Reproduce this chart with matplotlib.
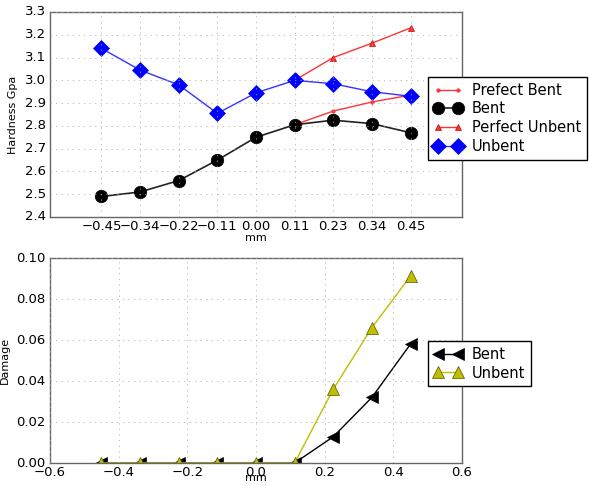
import matplotlib
matplotlib.use('Agg')
import matplotlib.pyplot as plt

# posiciones (mm) y etiquetas
x = [-0.45, -0.3375, -0.225, -0.1125, 0.0, 0.1125, 0.225, 0.3375, 0.45]
x_labels = ['-0.45', '-0.34', '-0.22', '-0.11', '0.00', '0.11', '0.23', '0.34', '0.45']
x_perf = [0.1125, 0.225, 0.3375, 0.45]
y_ticks = [2.4, 2.5, 2.6, 2.7, 2.8, 2.9, 3.0, 3.1, 3.2, 3.3]

# dureza
bent = [2.49, 2.51, 2.56, 2.65, 2.75, 2.805, 2.825, 2.81, 2.77]
unbent = [3.14, 3.045, 2.98, 2.855, 2.945, 3.0, 2.985, 2.95, 2.93]
perfect_bent = [2.805, 2.865, 2.905, 2.935]
perfect_unbent = [3.0, 3.10, 3.163, 3.23]

# daño
damage_bent = [0, 0, 0, 0, 0, 0, 0.0128, 0.032, 0.058]
damage_unbent = [0, 0, 0, 0, 0, 0, 0.036, 0.066, 0.0912]

plt.style.use('classic')
plt.rcParams['font.family'] = 'DejaVu Sans'

fig = plt.figure(figsize=(5.89, 4.86), dpi=100, facecolor='white')
ax1 = fig.add_axes([50/589, 1-217/486, 412/589, 205/486])
ax2 = fig.add_axes([50/589, 1-463/486, 412/589, 205/486])

ax1.plot(x_perf, perfect_bent, '.-', color='#ff3333', ms=5, lw=1, label='Prefect Bent')
ax1.plot(x, bent, 'o-', color='#222222', mec='k', mfc='k', ms=9, lw=1.2, label='Bent')
ax1.plot(x_perf, perfect_unbent, '^-', color='#ff3333', ms=4, mec='#cc0000', lw=1, label='Perfect Unbent')
ax1.plot(x, unbent, 'D-', color='#3333ff', mfc='blue', ms=8, mec='blue', lw=1, label='Unbent')
ax1.set_xlim(-0.6, 0.6)
ax1.set_ylim(2.4, 3.3)
ax1.set_yticks(y_ticks)
ax1.set_xticks(x)
ax1.set_xticklabels([l.replace('-', '\u2212') for l in x_labels])
ax1.set_ylabel('Hardness Gpa', fontsize=8)
ax1.set_xlabel('mm', fontsize=8, labelpad=0)
ax1.grid(True, color='#aaaaaa', linestyle=':')
ax1.legend(loc='upper left', bbox_to_anchor=(0.917, 0.683), borderaxespad=0,
           numpoints=2, fontsize=10.5, fancybox=False, framealpha=1,
           handletextpad=0.6, labelspacing=0.25)

ax2.plot(x, damage_bent, '<-', color='k', ms=8, lw=1, label='Bent')
ax2.plot(x, damage_unbent, '^-', color='#bfbf00', mec='#555500', ms=8, lw=1, label='Unbent')
ax2.set_xlim(-0.6, 0.6)
ax2.set_ylim(0, 0.10)
ax2.set_xticks([-0.6, -0.4, -0.2, 0.0, 0.2, 0.4, 0.6])
ax2.set_ylabel('Damage', fontsize=8)
ax2.set_xlabel('mm', fontsize=8, labelpad=-4)
ax2.grid(True, color='#aaaaaa', linestyle=':')
ax2.legend(loc='upper left', bbox_to_anchor=(0.917, 0.595), borderaxespad=0,
           numpoints=2, fontsize=10.5, fancybox=False, framealpha=1,
           handletextpad=0.6, labelspacing=0.25)

for ax in (ax1, ax2):
    ax.tick_params(labelsize=9.5, top=False, right=False, length=0)
    ax.tick_params(axis='x', pad=2)
    ax.tick_params(axis='y', pad=3)
    for s in ax.spines.values():
        s.set_color('#666666')

plt.savefig('out.png', dpi=100, facecolor='white')
plt.close()
